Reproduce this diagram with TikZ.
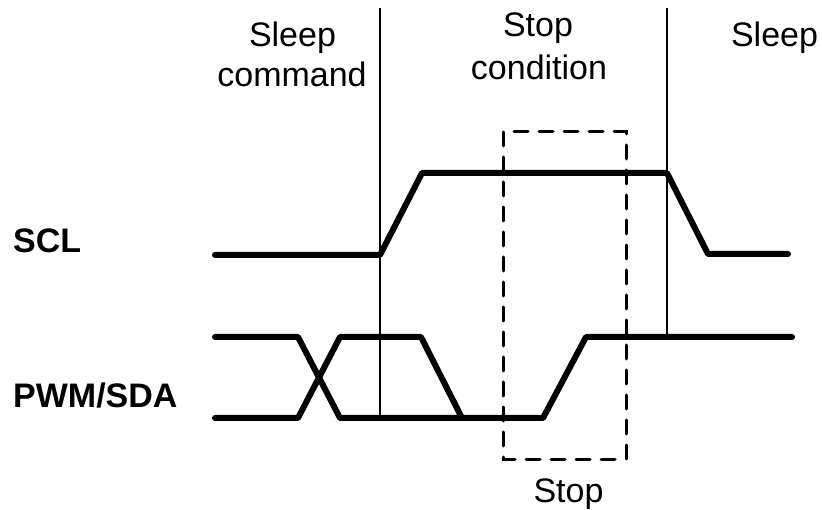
\documentclass[tikz,border=0pt]{standalone}
\usepackage{fontspec}
\setmainfont{Liberation Sans}
\begin{document}
\begin{tikzpicture}[x=1pt,y=-1pt,
  signal/.style={line width=6pt,line cap=round,line join=round},
  marker/.style={line width=1.8pt},
  stopbox/.style={line width=3pt,line cap=round,dash pattern=on 14pt off 11pt},
  lbl/.style={inner sep=0pt,anchor=base,font=\fontsize{34}{40}\selectfont},
  sig/.style={inner sep=0pt,anchor=base west,font=\fontsize{34}{40}\selectfont\bfseries}]
\useasboundingbox (0,0) rectangle (822,510);
% signals
\draw[signal] (215,255) -- (380,255) -- (422,173) -- (667,173) -- (708,254) -- (788,254);
\draw[signal] (215,337) -- (298,337) -- (340,418) -- (543,418) -- (586,337) -- (792,337);
\draw[signal] (215,418) -- (298,418) -- (340,337) -- (421,337) -- (462,418);
% markers
\coordinate (m1t) at (380,8);
\coordinate (m1b) at (380,418);
\coordinate (m2t) at (667,8);
\coordinate (m2b) at (667,337);
\draw[marker] (m1t) -- (m1b);
\draw[marker] (m2t) -- (m2b);
% stop box
\draw[stopbox] (503,132) rectangle (626,459);
% labels
\node[lbl] (sleep1) at (292.5,47) {Sleep};
\node[lbl] (sleep2) at (292,87) {command};
\node[lbl] (stop1) at (538,37) {Stop};
\node[lbl] (stop2) at (539,80) {condition};
\node[lbl] (sleep3) at (774.5,47) {Sleep};
\node[lbl] (stop3) at (568.5,502) {Stop};
\node[sig] (scl) at (13,253) {SCL};
\node[sig] (pwm) at (13,408) {PWM/SDA};
\end{tikzpicture}
\end{document}
